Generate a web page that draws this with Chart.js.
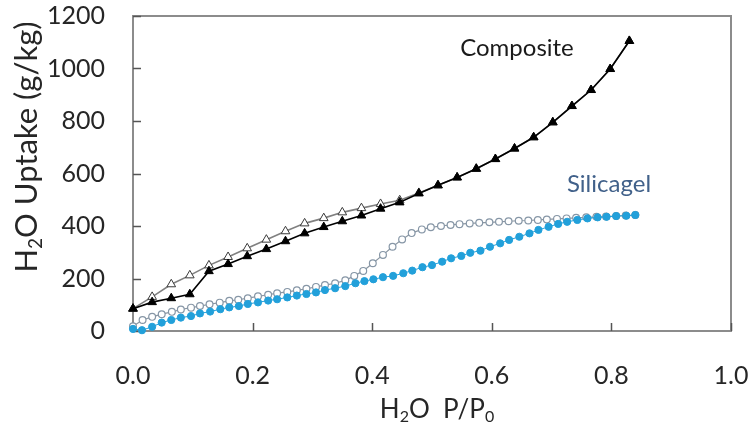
<!DOCTYPE html>
<html>
<head>
<meta charset="utf-8">
<script src="https://cdn.jsdelivr.net/npm/chart.js@4.4.1/dist/chart.umd.min.js"></script>
<style>
  html, body { margin: 0; padding: 0; background: #ffffff; }
  #wrap { width: 752px; height: 428px; }
</style>
</head>
<body>
<div id="wrap"><canvas id="isotherm" width="752" height="428"></canvas></div>
<script>
// --- Data ---
const xTicks = [0, 0.2, 0.4, 0.6, 0.8, 1.0];
const yTicks = [0, 200, 400, 600, 800, 1000, 1200];

// Composite, adsorption (filled triangles)
const compAdsP = [0, 0.032, 0.064, 0.095, 0.127, 0.159, 0.191, 0.223, 0.255, 0.287, 0.319, 0.350, 0.382, 0.414,
                  0.446, 0.478, 0.510, 0.542, 0.574, 0.606, 0.638, 0.670, 0.702, 0.734, 0.766, 0.798, 0.830];
const compAds  = [85, 110, 125, 140, 228, 255, 285, 312, 342, 372, 396, 418, 440, 466,
                  490, 524, 555, 585, 618, 655, 695, 738, 795, 857, 918, 998, 1105];

// Composite, desorption (open triangles)
const compDesP = [0, 0.032, 0.064, 0.095, 0.127, 0.159, 0.191, 0.223, 0.255, 0.287, 0.319, 0.350, 0.382, 0.414,
                  0.446, 0.478, 0.510, 0.542, 0.574, 0.606, 0.638, 0.670, 0.702, 0.734, 0.766, 0.798, 0.830];
const compDes  = [85, 130, 178, 212, 250, 282, 315, 348, 380, 410, 430, 452, 468, 484,
                  498, 526, 555, 585, 618, 655, 695, 738, 795, 857, 918, 998, 1105];

// Silicagel, adsorption (filled circles)
const silAdsP = [0, 0.015, 0.032, 0.048, 0.064, 0.080, 0.097, 0.112, 0.129, 0.146, 0.161, 0.177, 0.192, 0.209,
                 0.226, 0.241, 0.258, 0.274, 0.290, 0.306, 0.321, 0.338, 0.355, 0.372, 0.387, 0.402, 0.418,
                 0.435, 0.452, 0.467, 0.484, 0.500, 0.517, 0.532, 0.549, 0.564, 0.581, 0.597, 0.614, 0.629,
                 0.646, 0.663, 0.678, 0.695, 0.711, 0.726, 0.743, 0.760, 0.777, 0.792, 0.808, 0.825, 0.840];
const silAds  = [8, 3, 16, 32, 42, 51, 57, 67, 74, 83, 90, 95, 103, 109,
                 116, 121, 128, 135, 141, 147, 156, 163, 171, 182, 190, 197, 205,
                 210, 220, 230, 243, 251, 264, 277, 286, 298, 306, 321, 334, 347,
                 359, 372, 385, 397, 408, 416, 423, 429, 433, 435, 438, 439, 442];

// Silicagel, desorption (open circles)
const silDesP = [0, 0.016, 0.032, 0.048, 0.065, 0.080, 0.097, 0.112, 0.128, 0.145, 0.161, 0.176, 0.192, 0.209,
                 0.226, 0.241, 0.258, 0.274, 0.290, 0.306, 0.321, 0.338, 0.355, 0.370, 0.385, 0.401, 0.418,
                 0.434, 0.450, 0.466, 0.483, 0.498, 0.515, 0.531, 0.546, 0.563, 0.579, 0.596, 0.612, 0.628,
                 0.645, 0.661, 0.677, 0.692, 0.709, 0.725, 0.741, 0.758, 0.775, 0.791, 0.808, 0.824, 0.840];
const silDes  = [18, 42, 54, 64, 73, 82, 89, 95, 102, 108, 115, 119, 125, 132,
                 138, 144, 149, 155, 161, 168, 175, 182, 193, 210, 229, 258, 290,
                 321, 349, 373, 387, 395, 400, 404, 407, 410, 412, 414, 416, 418,
                 420, 421, 423, 425, 427, 429, 431, 433, 435, 436, 438, 440, 442];

const pairs = (xs, ys) => xs.map((x, i) => ({ x: x, y: ys[i] }));

// --- Styles ---
const FONT = 'Lato, "Open Sans", sans-serif';
const AXIS_GRAY = '#8c8c8c';
const TEXT_COL = '#262626';
const SIL_BLUE = '#22a0da';

// --- Frame, inward ticks and text drawn on top of the chart ---
function richText(ctx, parts, size) {
    // parts: [text, isSubscript]
    let w = 0;
    parts.forEach(p => {
        ctx.font = (p[1] ? Math.round(size * 0.62) : size) + 'px ' + FONT;
        w += ctx.measureText(p[0]).width;
    });
    let x = -w / 2;
    parts.forEach(p => {
        ctx.font = (p[1] ? Math.round(size * 0.62) : size) + 'px ' + FONT;
        ctx.fillText(p[0], x, p[1] ? size * 0.28 : 0);
        x += ctx.measureText(p[0]).width;
    });
}

const framePlugin = {
    id: 'frame',
    beforeDatasetsDraw(chart) {
        const { ctx, chartArea: a, scales } = chart;
        ctx.save();
        ctx.strokeStyle = AXIS_GRAY;
        ctx.lineWidth = 2;
        ctx.strokeRect(a.left, a.top, a.right - a.left, a.bottom - a.top);
        ctx.lineWidth = 1.5;
        ctx.strokeStyle = '#555555';
        ctx.beginPath();
        yTicks.forEach(v => {
            const y = Math.round(scales.y.getPixelForValue(v)) + 0.5;
            ctx.moveTo(a.left, y);
            ctx.lineTo(a.left + 8, y);
        });
        xTicks.forEach(v => {
            const x = Math.round(scales.x.getPixelForValue(v)) + 0.5;
            ctx.moveTo(x, a.bottom);
            ctx.lineTo(x, a.bottom - 8);
        });
        ctx.stroke();
        ctx.restore();
    },
    afterDraw(chart) {
        const { ctx } = chart;
        ctx.save();
        ctx.fillStyle = TEXT_COL;
        ctx.textBaseline = 'middle';
        ctx.textAlign = 'left';

        // y axis title
        ctx.save();
        ctx.translate(27, 147);
        ctx.rotate(-Math.PI / 2);
        richText(ctx, [['H', false], ['2', true], ['O Uptake (g/kg)', false]], 31);
        ctx.restore();

        // x axis title
        ctx.save();
        ctx.translate(437, 410);
        richText(ctx, [['H', false], ['2', true], ['O  P/P', false], ['0', true]], 26);
        ctx.restore();

        // series labels
        ctx.textAlign = 'center';
        ctx.font = '24px ' + FONT;
        ctx.fillStyle = '#1a1a1a';
        ctx.fillText('Composite', 517, 48);
        ctx.fillStyle = '#41618a';
        ctx.fillText('Silicagel', 609, 184);
        ctx.restore();
    }
};

function noScalePadding(scale) {
    scale.paddingTop = 0;
    scale.paddingBottom = 0;
    scale.paddingLeft = 0;
    scale.paddingRight = 0;
}

// --- Chart ---
const ctx = document.getElementById('isotherm').getContext('2d');
const isothermChart = new Chart(ctx, {
    type: 'scatter',
    data: {
        datasets: [
            {
                label: 'Composite adsorption',
                data: pairs(compAdsP, compAds),
                showLine: true,
                borderColor: '#000000',
                borderWidth: 1.6,
                pointStyle: 'triangle',
                pointRadius: 5,
                pointBackgroundColor: '#000000',
                pointBorderColor: '#000000',
                pointBorderWidth: 1
            },
            {
                label: 'Silicagel adsorption',
                data: pairs(silAdsP, silAds),
                showLine: true,
                borderColor: SIL_BLUE,
                borderWidth: 1,
                pointStyle: 'circle',
                pointRadius: 3.6,
                pointBackgroundColor: SIL_BLUE,
                pointBorderColor: SIL_BLUE,
                pointBorderWidth: 1
            },
            {
                label: 'Composite desorption',
                data: pairs(compDesP, compDes),
                showLine: true,
                borderColor: '#808080',
                borderWidth: 1.6,
                pointStyle: 'triangle',
                pointRadius: 5,
                pointBackgroundColor: '#ffffff',
                pointBorderColor: '#3a3a3a',
                pointBorderWidth: 1
            },
            {
                label: 'Silicagel desorption',
                data: pairs(silDesP, silDes),
                showLine: true,
                borderColor: '#8a96a2',
                borderWidth: 1.2,
                pointStyle: 'circle',
                pointRadius: 3.4,
                pointBackgroundColor: '#ffffff',
                pointBorderColor: '#8696a6',
                pointBorderWidth: 1.2
            }
        ]
    },
    options: {
        responsive: false,
        animation: false,
        clip: false,
        layout: { autoPadding: false, padding: { top: 16, right: 21, left: 0, bottom: 0 } },
        plugins: {
            legend: { display: false },
            tooltip: { enabled: false }
        },
        scales: {
            x: {
                type: 'linear',
                min: 0,
                max: 1,
                afterFit(scale) { scale.height = 97; noScalePadding(scale); },
                afterBuildTicks(scale) { scale.ticks = xTicks.map(v => ({ value: v })); },
                grid: { display: false, drawTicks: false },
                border: { display: false },
                ticks: {
                    padding: 30,
                    color: TEXT_COL,
                    font: { family: FONT, size: 25 },
                    callback: v => v.toFixed(1)
                }
            },
            y: {
                type: 'linear',
                min: 0,
                max: 1200,
                afterFit(scale) { scale.width = 133; noScalePadding(scale); },
                afterBuildTicks(scale) { scale.ticks = yTicks.map(v => ({ value: v })); },
                grid: { display: false, drawTicks: false },
                border: { display: false },
                ticks: {
                    padding: 28,
                    color: TEXT_COL,
                    font: { family: FONT, size: 25 },
                    callback: v => String(v)
                }
            }
        }
    },
    plugins: [framePlugin]
});
</script>
</body>
</html>
